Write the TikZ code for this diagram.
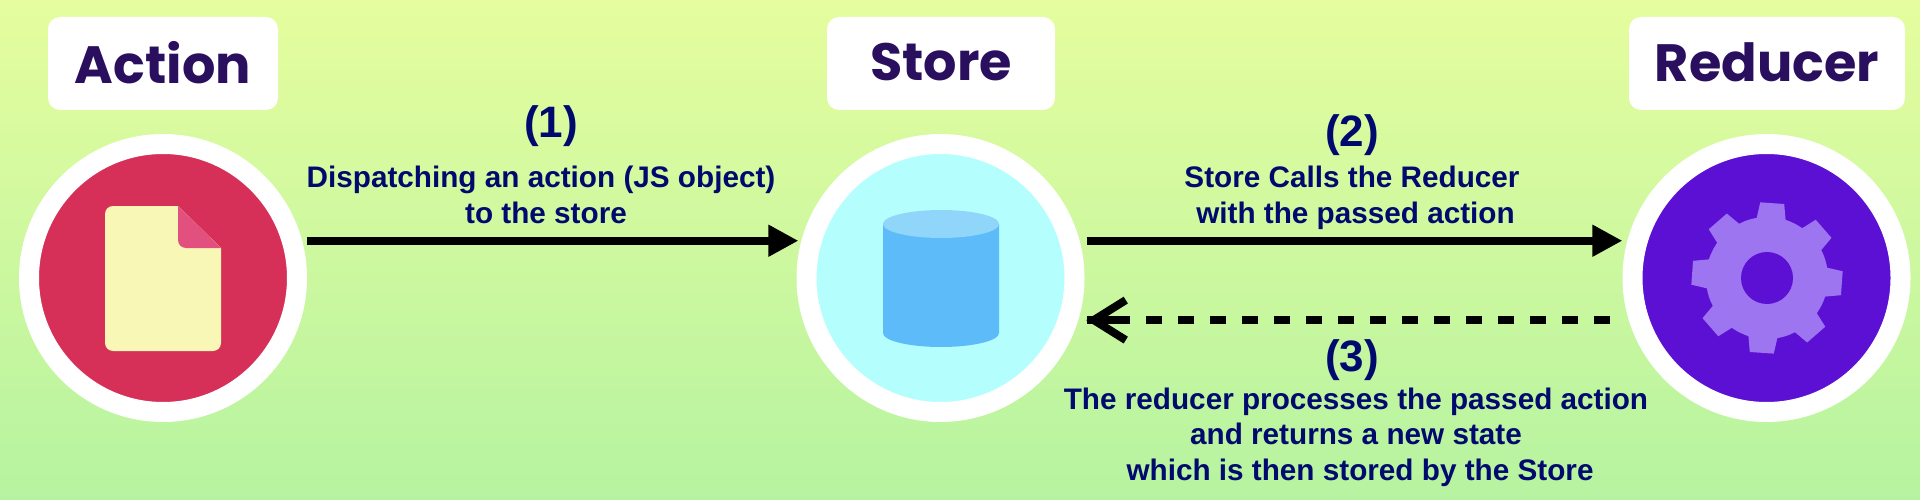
\documentclass[tikz,border=0pt]{standalone}
\usepackage{fontspec}
\setmainfont{Liberation Sans}
\newfontfamily\tagfont{Poppins}
\usetikzlibrary{arrows.meta}
\definecolor{bgtop}{HTML}{E5FD9E}
\definecolor{bgbot}{HTML}{B6F3A0}
\definecolor{tagink}{HTML}{2B0F5F}
\definecolor{capink}{HTML}{000A6E}
\definecolor{redc}{HTML}{D63058}
\definecolor{paperc}{HTML}{F9F7B5}
\definecolor{foldc}{HTML}{E25080}
\definecolor{iceC}{HTML}{B4FEFE}
\definecolor{drumc}{HTML}{5CBBF8}
\definecolor{lidc}{HTML}{90D5FA}
\definecolor{violetc}{HTML}{5C10D4}
\definecolor{gearc}{HTML}{9D75F0}
\begin{document}
\begin{tikzpicture}[x=1pt,y=-1pt,line join=miter,
		>={Triangle[length=30pt,width=30pt]},
		ring/.style={circle,draw=white,line width=20pt,minimum size=268pt,inner sep=0pt},
		tagbox/.style={fill=white,rounded corners=12pt,minimum height=93pt,inner sep=0pt,text depth=3pt,text=tagink,font=\tagfont\bfseries\fontsize{52.5}{53}\selectfont},
		numb/.style={text=capink,font=\bfseries\fontsize{44}{44}\selectfont,anchor=base},
		captxt/.style={text=capink,align=center,font=\bfseries\fontsize{29.7}{35.5}\selectfont,anchor=base},
		flow/.style={->,line width=8pt},
		back/.style={line width=8pt,dash pattern=on 16pt off 16pt,
			arrows={-Rectangle[length=43pt,width=8pt,line width=0pt,sep=-43pt]Straight Barb[length=32pt,width=40pt,line width=8pt]}}]
	\def\ringy{278}
	\shade[top color=bgtop,bottom color=bgbot] (0,0) rectangle (1920,500);
	\useasboundingbox (0,0) rectangle (1920,500);
	\node[ring,fill=redc] (action) at (163,\ringy) {};
	\node[ring,fill=iceC] (store) at (940.5,\ringy) {};
	\node[ring,fill=violetc] (reducer) at (1766.5,\ringy) {};
	\node[tagbox,minimum width=230pt] (actiontag) at (163,63.5) {Action};
	\node[tagbox,minimum width=228pt] (storetag) at (941,63.5) {Store};
	\node[tagbox,minimum width=276pt] (reducertag) at (1767,63.5) {Reducer};
	% paper
	\fill[paperc,rounded corners=8pt] (105,280) -- (105,206) [sharp corners] -- (178,206) -- (221,248) [rounded corners=8pt] -- (221,351) -- (105,351) -- cycle;
	\fill[foldc,rounded corners=8pt] (178,206) -- (178,248) [sharp corners] -- (221,248) -- cycle;
	% drum
	\fill[drumc] (883,224) -- (883,333) arc[start angle=180,end angle=360,x radius=58pt,y radius=14pt] -- (999,224) -- cycle;
	\fill[lidc] (941,224) ellipse[x radius=58pt,y radius=14pt];
	% gear
	\begin{scope}[shift={(1767,278)}]
		\foreach \a in {0,45,...,315}
			\fill[gearc,rotate=\a-4] (-15,-56) -- (-12,-75) -- (12,-75) -- (15,-56) -- cycle;
		\fill[gearc] (0,0) circle (61pt);
		\fill[violetc] (0,0) circle (26pt);
	\end{scope}
	\draw[flow] ([xshift=5pt]action.15) -- ([xshift=-3pt]store.165);
	\draw[flow] ([xshift=7pt]store.15) -- ([xshift=-5pt]reducer.165);
	\draw[back] ([xshift=-19pt]reducer.197) -- ([xshift=8pt]store.-17);
	\node[numb] (stepone) at (551,138) {(1)};
	\node[numb] (steptwo) at (1352,147) {(2)};
	\node[numb] (stepthree) at (1352,371) {(3)};
	\node[captxt] (capone) at (541,223) {Dispatching an action (JS object)\\\hspace*{10pt}to the store};
	\node[captxt] (captwo) at (1352,223) {Store Calls the Reducer\\\hspace*{7pt}with the passed action};
	\node[captxt] (capthree) at (1356,480) {The reducer processes the passed action\\and returns a new state\\\hspace*{8pt}which is then stored by the Store};
\end{tikzpicture}
\end{document}
